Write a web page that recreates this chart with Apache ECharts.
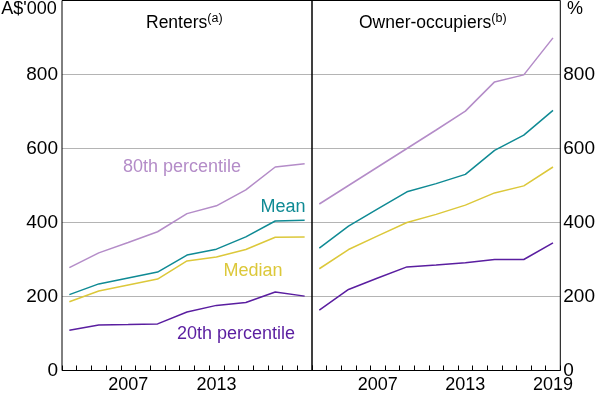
<!DOCTYPE html>
<html>
<head>
<meta charset="utf-8">
<script src="https://cdn.jsdelivr.net/npm/echarts@6/dist/echarts.min.js"></script>
<style>
  html, body { margin: 0; padding: 0; background: #fff; }
  #chart { width: 598px; height: 396px; }
</style>
</head>
<body>
<div id="chart"></div>
<script>
// Survey years, plotted mid-way through each year slot (financial-year surveys)
const AXIS_YEARS = ['2003','2004','2005','2006','2007','2008','2009','2010','2011',
                    '2012','2013','2014','2015','2016','2017','2018','2019'];
const SURVEY_YEARS = ['2003','2005','2007','2009','2011','2013','2015','2017','2019'];
const LEFT_LABELS = ['2007', '2013'];
const RIGHT_LABELS = ['2007', '2013', '2019'];
const Y_TICKS_MAX = 1000;

// Renters, A$'000
const renters80 = [278, 318, 346, 375, 424, 445, 488, 550, 559];
const rentersMean = [205, 234, 250, 266, 312, 328, 361, 404, 406];
const rentersMedian = [186, 215, 231, 247, 296, 307, 327, 360, 361];
const renters20 = [109, 123, 124, 126, 158, 176, 184, 212, 201];

// Owner-occupiers, A$'000
const owners80 = [450, 500, 550, 600, 650, 701, 780, 799, 899];
const ownersMean = [331, 390, 437, 483, 505, 530, 595, 636, 703];
const ownersMedian = [275, 327, 364, 400, 422, 447, 480, 499, 550];
const owners20 = [163, 219, 250, 280, 285, 291, 300, 300, 345];

const C = {
  p80: '#b48cc8',
  mean: '#0f8a94',
  median: '#dcc83a',
  p20: '#5a1ea0',
  grid: '#b4b4b4',
};
const FONT = '"Liberation Sans", Arial, sans-serif';

function pairs(vals) { return SURVEY_YEARS.map((y, i) => [y, vals[i]]); }

function xAxis(gridIndex, labels) {
  return {
    type: 'category', gridIndex, data: AXIS_YEARS, boundaryGap: true,
    axisLine: { show: false },
    axisTick: { show: true, inside: true, length: 5, interval: 0, lineStyle: { color: '#000' } },
    axisLabel: {
      interval: (idx, val) => labels.indexOf(val) >= 0,
      color: '#000', fontFamily: FONT, fontSize: 18, margin: 6,
    },
    splitLine: { show: false },
  };
}
function yAxis(gridIndex, position) {
  return {
    type: 'value', gridIndex, position, min: 0, max: Y_TICKS_MAX, interval: 200,
    axisLine: { show: false }, axisTick: { show: false },
    axisLabel: {
      color: '#000', fontFamily: FONT, fontSize: 19, margin: position === 'left' ? 4 : 3,
      formatter: v => v === Y_TICKS_MAX ? '' : String(v),
    },
    splitLine: { lineStyle: { color: C.grid, width: 1 } },
  };
}
function line(idx, vals, color) {
  return {
    type: 'line', xAxisIndex: idx, yAxisIndex: idx, data: pairs(vals),
    showSymbol: false, symbol: 'none', silent: true,
    lineStyle: { color, width: 1.5 },
  };
}
function txt(x, y, text, color, size) {
  return {
    type: 'text', x, y, silent: true,
    style: { text, fill: color, font: `${size}px ${FONT}`, align: 'center', verticalAlign: 'middle' },
  };
}
function title(x, main, sup) {
  return {
    type: 'text', x, y: 22, silent: true,
    style: {
      text: `{m|${main}}{s|${sup}}`, verticalAlign: 'middle',
      rich: {
        m: { fontFamily: FONT, fontSize: 17.5, fill: '#000', verticalAlign: 'bottom', lineHeight: 20 },
        s: { fontFamily: FONT, fontSize: 12.5, fill: '#000', verticalAlign: 'top', lineHeight: 20 },
      },
    },
  };
}

const chart = echarts.init(document.getElementById('chart'), null, { renderer: 'canvas' });
chart.setOption({
  animation: false,
  backgroundColor: '#fff',
  grid: [
    { left: 62, top: 0.5, width: 250, height: 370, show: true, borderColor: '#000', borderWidth: 1, z: 5 },
    { left: 312, top: 0.5, width: 252, height: 370, show: true, borderColor: '#000', borderWidth: 1, z: 5 },
  ],
  xAxis: [xAxis(0, LEFT_LABELS), xAxis(1, RIGHT_LABELS)],
  yAxis: [yAxis(0, 'left'), yAxis(1, 'right')],
  series: [
    line(0, renters80, C.p80), line(0, rentersMean, C.mean),
    line(0, rentersMedian, C.median), line(0, renters20, C.p20),
    line(1, owners80, C.p80), line(1, ownersMean, C.mean),
    line(1, ownersMedian, C.median), line(1, owners20, C.p20),
  ],
  graphic: [
    txt(29, 9, "A$'000", '#000', 18),
    txt(575, 9, '%', '#000', 18),
    title(146, 'Renters', '(a)'),
    title(359, 'Owner-occupiers', '(b)'),
    txt(182, 167, '80th percentile', C.p80, 18),
    txt(283, 207, 'Mean', C.mean, 18),
    txt(253, 271, 'Median', C.median, 18),
    txt(236, 334, '20th percentile', C.p20, 18),
  ],
});
</script>
</body>
</html>
